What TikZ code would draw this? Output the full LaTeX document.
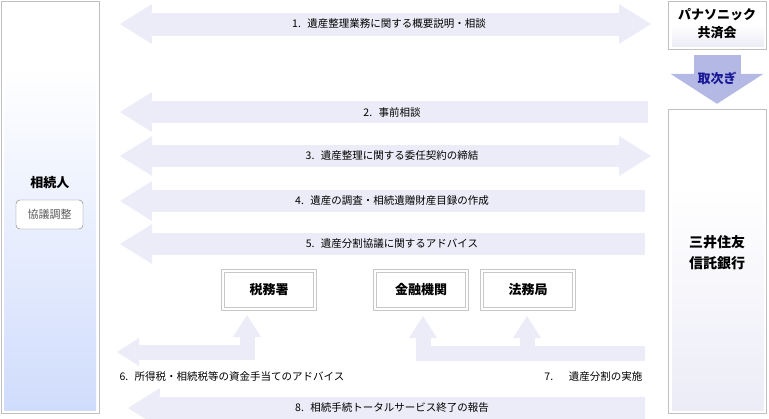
\documentclass[tikz,border=0pt]{standalone}
\usepackage{fontspec}
\setmainfont{Noto Sans CJK JP}
\usetikzlibrary{arrows.meta}
\definecolor{flow}{RGB}{236,236,248}
\definecolor{frame}{RGB}{192,192,192}
\definecolor{heirblue}{RGB}{208,220,252}
\definecolor{banktint}{RGB}{236,236,247}
\definecolor{relay}{RGB}{180,184,228}
\definecolor{relaytext}{RGB}{24,24,150}
\definecolor{officeline}{RGB}{200,200,200}
\definecolor{talkline}{RGB}{120,120,120}
\definecolor{talktext}{RGB}{90,90,90}

\begin{document}
\begin{tikzpicture}[x=1pt, y=-1pt,
    column/.style = {draw=frame, minimum width=98pt, inner sep=0pt},
    office/.style = {draw=officeline, double=white, double distance=1.4pt, line width=1.1pt,
                     minimum width=92pt, minimum height=38pt, font=\fontsize{13}{15}\selectfont\bfseries},
    flowline/.style = {draw=flow, line width=22pt},
    sideline/.style = {draw=flow, line width=15pt},
    flowtip/.tip = {Triangle[width=40pt, length=32pt, line width=0pt]},
    sidetip/.tip = {Triangle[width=28pt, length=22pt, line width=0pt]},
    step label/.style = {font=\fontsize{10.5}{12}\selectfont, text=black}]
    \useasboundingbox (0,0) rectangle (769,418);
    \clip (0,0) rectangle (769,418);

    % the two sides
    \shade[top color=white, bottom color=heirblue] (4,68) rectangle (96,410);
    \node [column, minimum height=412pt] (heir) at (50.5,207) {};
    \node [font=\fontsize{13}{15}\selectfont\bfseries] (heirname) at (50,183) {相続人};
    \node [draw=talkline, fill=white, rounded corners=4pt, minimum width=67pt, minimum height=29pt,
           text=talktext, font=\fontsize{11}{13}\selectfont] (talk) at (49.5,214.5) {協議調整};

    \shade[top color=white, bottom color=banktint] (672,186) rectangle (764,410);
    \node [column, minimum height=304pt] (bank) at (717,261) {};
    \node [align=center, font=\fontsize{14}{21}\selectfont\bfseries] (bankname) at (717,253) {三井住友\\信託銀行};

    \shade[top color=white, bottom color=banktint] (672,25) rectangle (764,46);
    \node [column, minimum height=48pt] (pana) at (717,25) {};
    \node [align=center, font=\fontsize{13}{18}\selectfont\bfseries] (pananame) at (717,24) {パナソニック\\共済会};

    \draw [draw=relay, line width=47pt, -{Triangle[width=93pt, length=30pt, line width=0pt]}]
        ([yshift=-6pt]pana.south) -- ([yshift=5pt]bank.north);
    \node [text=relaytext, font=\fontsize{13}{15}\selectfont\bfseries] (relayname) at (717,78) {取次ぎ};

    % steps 1 to 5
    \coordinate (f1l) at (120,24);  \coordinate (f1r) at (651,24);
    \coordinate (f2l) at (120,112); \coordinate (f2r) at (648,112);
    \coordinate (f3l) at (120,156); \coordinate (f3r) at (651,156);
    \coordinate (f4l) at (120,201); \coordinate (f4r) at (645,201);
    \coordinate (f5l) at (120,244); \coordinate (f5r) at (645,244);
    \draw [flowline, line width=23pt, flowtip-flowtip] (f1l) -- (f1r);
    \draw [flowline, flowtip-] (f2l) -- (f2r);
    \draw [flowline, flowtip-flowtip] (f3l) -- (f3r);
    \draw [flowline, flowtip-] (f4l) -- (f4r);
    \draw [flowline, flowtip-] (f5l) -- (f5r);
    \node [step label] (s1) at (389,24) {1.\hspace{0.6em}遺産整理業務に関する概要説明・相談};
    \node [step label] (s2) at (392,112) {2.\hspace{0.6em}事前相談};
    \node [step label] (s3) at (392,156) {3.\hspace{0.6em}遺産整理に関する委任契約の締結};
    \node [step label] (s4) at (392,201) {4.\hspace{0.6em}遺産の調査・相続遺贈財産目録の作成};
    \node [step label] (s5) at (392,244) {5.\hspace{0.6em}遺産分割協議に関するアドバイス};

    % offices
    \node [office] (tax) at (269,290) {税務署};
    \node [office] (fin) at (421,290) {金融機関};
    \node [office] (legal) at (528,290) {法務局};

    % steps 6 to 8
    \coordinate (f6l) at (117,352); \coordinate (f6t) at (247,315);
    \coordinate (f7r) at (645,353); \coordinate (f7t) at (423,316);
    \coordinate (f7m) at (527,353); \coordinate (f7u) at (527,316);
    \coordinate (f8l) at (128,408); \coordinate (f8r) at (645,408);
    \draw [sideline, sidetip-sidetip] (f6l) -| (f6t);
    \draw [sideline, -sidetip] (f7r) -| (f7t);
    \draw [sideline, -sidetip] (f7m) -- (f7u);
    \draw [flowline, flowtip-] (f8l) -- (f8r);
    \node [step label, anchor=west] (s6) at (116,376) {6.\hspace{0.6em}所得税・相続税等の資金手当てのアドバイス};
    \node [step label, anchor=east] (s7) at (646,377) {7.\hspace{1.5em}遺産分割の実施};
    \node [step label] (s8) at (392,408) {8.\hspace{0.6em}相続手続トータルサービス終了の報告};
\end{tikzpicture}
\end{document}
